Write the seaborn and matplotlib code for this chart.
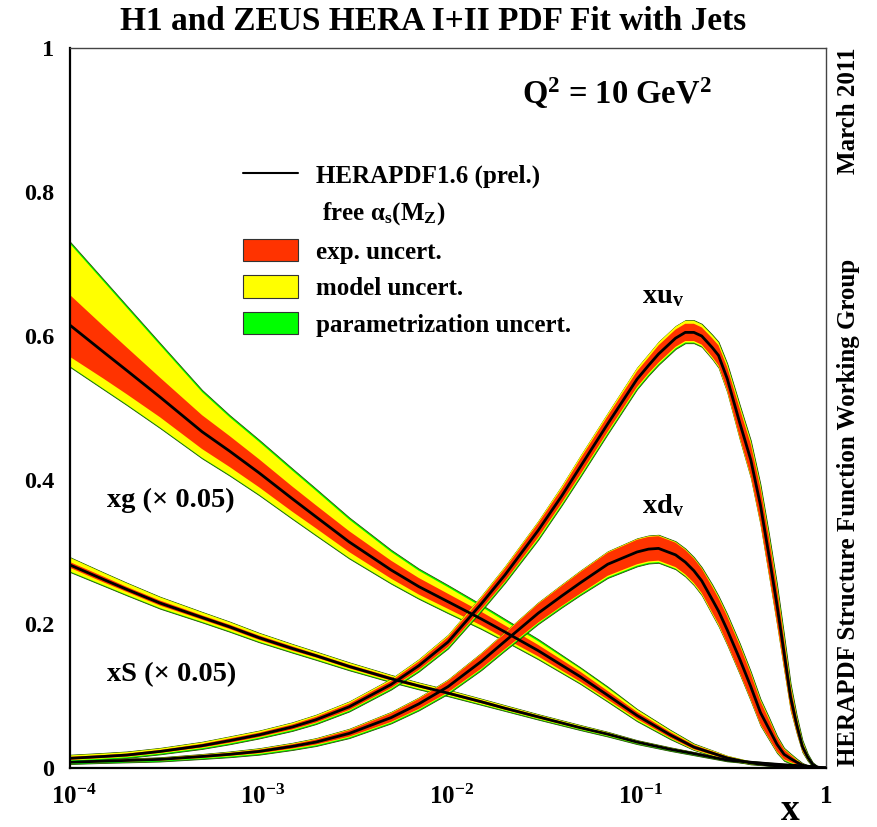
import numpy as np
import pandas as pd
import matplotlib
matplotlib.use("Agg")
import matplotlib.pyplot as plt
import seaborn as sns
from matplotlib.lines import Line2D
from matplotlib.patches import Patch
from matplotlib.ticker import FixedLocator, FixedFormatter, LogLocator, NullFormatter, MultipleLocator
from matplotlib.transforms import ScaledTranslation

# ---------------- data ----------------
x_sea = [1e-4, 1.5e-4, 2e-4, 3e-4, 5e-4, 7e-4, 1e-3, 1.5e-3, 2e-3, 3e-3, 5e-3, 7e-3,
         1e-2, 1.5e-2, 2e-2, 3e-2, 5e-2, 7e-2, 0.1, 0.15, 0.2, 0.3, 0.4, 0.5, 0.6,
         0.7, 0.8, 0.9, 1.0]

xg_c = [0.615, 0.578, 0.552, 0.515, 0.467, 0.440, 0.410, 0.374, 0.349, 0.314, 0.275, 0.252,
        0.231, 0.207, 0.189, 0.163, 0.127, 0.101, 0.073, 0.046, 0.029, 0.014, 0.007, 0.004,
        0.002, 0.001, 0.0005, 0.0002, 0.0]
xg_exp_up = [0.042, 0.036, 0.032, 0.027, 0.023, 0.021, 0.019, 0.017, 0.016, 0.015, 0.013, 0.012,
             0.011, 0.010, 0.009, 0.008, 0.007, 0.006, 0.005, 0.004, 0.003, 0.002, 0.001, 0.001,
             0.0005, 0.0003, 0.0002, 0.0001, 0.0]
xg_exp_dn = [0.044, 0.037, 0.033, 0.028, 0.024, 0.022, 0.020, 0.018, 0.016, 0.014, 0.012, 0.011,
             0.010, 0.009, 0.009, 0.008, 0.007, 0.006, 0.005, 0.004, 0.003, 0.002, 0.001, 0.001,
             0.0005, 0.0003, 0.0002, 0.0001, 0.0]
xg_mod_up = [0.113, 0.098, 0.087, 0.072, 0.055, 0.047, 0.043, 0.039, 0.036, 0.031, 0.025, 0.022,
             0.020, 0.017, 0.015, 0.013, 0.011, 0.010, 0.008, 0.006, 0.004, 0.003, 0.002, 0.001,
             0.001, 0.0005, 0.0003, 0.0001, 0.0]
xg_mod_dn = [0.057, 0.051, 0.047, 0.042, 0.036, 0.033, 0.030, 0.027, 0.025, 0.022, 0.018, 0.016,
             0.015, 0.013, 0.012, 0.011, 0.009, 0.008, 0.007, 0.005, 0.004, 0.003, 0.002, 0.001,
             0.001, 0.0005, 0.0003, 0.0001, 0.0]
xg_tot_up = [0.116, 0.101, 0.090, 0.075, 0.058, 0.050, 0.046, 0.042, 0.039, 0.034, 0.028, 0.025,
             0.023, 0.020, 0.018, 0.016, 0.013, 0.012, 0.009, 0.007, 0.005, 0.003, 0.002, 0.001,
             0.001, 0.0005, 0.0003, 0.0001, 0.0]
xg_tot_dn = [0.058, 0.052, 0.048, 0.043, 0.037, 0.034, 0.031, 0.028, 0.026, 0.023, 0.019, 0.017,
             0.016, 0.014, 0.013, 0.012, 0.010, 0.009, 0.008, 0.006, 0.004, 0.003, 0.002, 0.001,
             0.001, 0.0005, 0.0003, 0.0001, 0.0]

xs_c = [0.282, 0.262, 0.248, 0.229, 0.209, 0.196, 0.181, 0.166, 0.156, 0.141, 0.124, 0.114,
        0.104, 0.092, 0.083, 0.071, 0.056, 0.047, 0.036, 0.026, 0.020, 0.011, 0.008, 0.006,
        0.0045, 0.0035, 0.0025, 0.0012, 0.0]
xs_exp = [0.004, 0.004, 0.0035, 0.0035, 0.003, 0.003, 0.003, 0.003, 0.0025, 0.0025, 0.0025, 0.002,
          0.002, 0.002, 0.002, 0.002, 0.0015, 0.0015, 0.0012, 0.001, 0.001, 0.0008, 0.0006, 0.0005,
          0.0004, 0.0003, 0.0002, 0.0001, 0.0]
xs_mod_up = [0.010, 0.009, 0.0085, 0.008, 0.007, 0.0065, 0.006, 0.0055, 0.005, 0.005, 0.0045, 0.004,
             0.004, 0.0035, 0.0035, 0.003, 0.003, 0.0025, 0.002, 0.002, 0.0015, 0.001, 0.001, 0.0008,
             0.0006, 0.0004, 0.0003, 0.0001, 0.0]
xs_mod_dn = [0.009, 0.008, 0.0075, 0.007, 0.006, 0.006, 0.0055, 0.005, 0.005, 0.0045, 0.004, 0.004,
             0.0035, 0.0035, 0.003, 0.003, 0.0025, 0.0025, 0.002, 0.0015, 0.0015, 0.001, 0.001, 0.0008,
             0.0006, 0.0004, 0.0003, 0.0001, 0.0]

x_val = [1e-4, 1.5e-4, 2e-4, 3e-4, 5e-4, 7e-4, 1e-3, 1.5e-3, 2e-3, 3e-3, 5e-3, 7e-3,
         1e-2, 1.5e-2, 2e-2, 3e-2, 4e-2, 5e-2, 7e-2, 0.1, 0.115, 0.13, 0.16, 0.18, 0.2,
         0.22, 0.25, 0.27, 0.3, 0.35, 0.4, 0.45, 0.5, 0.55, 0.6, 0.65, 0.7, 0.75, 0.8,
         0.85, 0.9, 0.95, 1.0]

xuv_c = [0.0135, 0.016, 0.018, 0.023, 0.031, 0.038, 0.046, 0.057, 0.067, 0.085, 0.116, 0.142,
         0.175, 0.228, 0.268, 0.330, 0.378, 0.418, 0.478, 0.540, 0.559, 0.575, 0.597, 0.605,
         0.605, 0.600, 0.584, 0.573, 0.541, 0.479, 0.428, 0.365, 0.294, 0.227, 0.160, 0.098,
         0.060, 0.030, 0.015, 0.005, 0.001, 0.0002, 0.0]
xuv_exp = [0.002, 0.002, 0.002, 0.002, 0.0025, 0.003, 0.003, 0.0035, 0.004, 0.0045, 0.005, 0.006,
           0.007, 0.008, 0.009, 0.010, 0.010, 0.011, 0.011, 0.011, 0.011, 0.012, 0.012, 0.012,
           0.012, 0.012, 0.013, 0.014, 0.016, 0.020, 0.022, 0.024, 0.025, 0.024, 0.020, 0.015,
           0.010, 0.006, 0.003, 0.0015, 0.0005, 0.0001, 0.0]
xuv_mod_up = [0.004, 0.004, 0.004, 0.004, 0.0045, 0.005, 0.005, 0.0055, 0.006, 0.0065, 0.007, 0.008,
              0.009, 0.010, 0.011, 0.012, 0.013, 0.014, 0.014, 0.015, 0.015, 0.016, 0.016, 0.016,
              0.016, 0.016, 0.017, 0.018, 0.020, 0.024, 0.026, 0.028, 0.029, 0.028, 0.024, 0.018,
              0.012, 0.008, 0.004, 0.002, 0.0007, 0.0002, 0.0]
xuv_mod_dn = [0.003, 0.003, 0.003, 0.003, 0.0035, 0.004, 0.004, 0.0045, 0.005, 0.0055, 0.006, 0.007,
              0.008, 0.009, 0.010, 0.012, 0.012, 0.013, 0.013, 0.013, 0.013, 0.014, 0.014, 0.014,
              0.014, 0.014, 0.015, 0.016, 0.018, 0.022, 0.024, 0.026, 0.027, 0.026, 0.022, 0.017,
              0.011, 0.007, 0.004, 0.002, 0.0006, 0.0001, 0.0]

xdv_c = [0.008, 0.0095, 0.0105, 0.012, 0.016, 0.019, 0.023, 0.030, 0.036, 0.048, 0.070, 0.089,
         0.113, 0.148, 0.176, 0.215, 0.239, 0.257, 0.283, 0.300, 0.304, 0.305, 0.296, 0.286,
         0.274, 0.260, 0.234, 0.218, 0.192, 0.151, 0.113, 0.077, 0.054, 0.033, 0.019, 0.013,
         0.008, 0.004, 0.002, 0.001, 0.0003, 0.0001, 0.0]
xdv_exp = [0.001, 0.001, 0.0012, 0.0015, 0.002, 0.002, 0.0025, 0.003, 0.0035, 0.0045, 0.006, 0.007,
           0.008, 0.010, 0.011, 0.013, 0.014, 0.015, 0.016, 0.017, 0.017, 0.017, 0.017, 0.017,
           0.017, 0.017, 0.018, 0.018, 0.019, 0.019, 0.018, 0.016, 0.013, 0.010, 0.007, 0.005,
           0.003, 0.002, 0.001, 0.0005, 0.0002, 0.0001, 0.0]
xdv_mod_up = [0.0015, 0.0015, 0.0017, 0.002, 0.0025, 0.003, 0.0035, 0.004, 0.0045, 0.0055, 0.007, 0.008,
              0.009, 0.011, 0.012, 0.014, 0.015, 0.016, 0.017, 0.018, 0.018, 0.018, 0.018, 0.018,
              0.018, 0.018, 0.020, 0.020, 0.021, 0.021, 0.020, 0.018, 0.015, 0.011, 0.008, 0.006,
              0.004, 0.002, 0.001, 0.0006, 0.0002, 0.0001, 0.0]
xdv_mod_dn = [0.0015, 0.0015, 0.0017, 0.002, 0.0025, 0.003, 0.0035, 0.004, 0.0045, 0.0055, 0.007, 0.008,
              0.009, 0.011, 0.012, 0.014, 0.015, 0.016, 0.018, 0.019, 0.019, 0.019, 0.019, 0.019,
              0.019, 0.019, 0.020, 0.020, 0.020, 0.020, 0.019, 0.017, 0.014, 0.011, 0.008, 0.006,
              0.004, 0.002, 0.001, 0.0006, 0.0002, 0.0001, 0.0]

y_ticks = [0.0, 0.2, 0.4, 0.6, 0.8, 1.0]
y_tick_labels = ["0", "0.2", "0.4", "0.6", "0.8", "1"]
x_ticks = [1e-4, 1e-3, 1e-2, 1e-1, 1.0]
x_tick_labels = [r"$10^{-4}$", r"$10^{-3}$", r"$10^{-2}$", r"$10^{-1}$", "1"]

legend_labels = ["HERAPDF1.6 (prel.)", r" free $α_{s}(M_{Z})$", "exp. uncert.",
                 "model uncert.", "parametrization uncert."]

# ---------------- style ----------------
sns.set_theme(style="white")
plt.rcParams["font.family"] = ["Liberation Serif", "DejaVu Serif"]
plt.rcParams["font.weight"] = "bold"
plt.rcParams["text.color"] = "black"
plt.rcParams["axes.labelcolor"] = "black"
plt.rcParams["xtick.color"] = "black"
plt.rcParams["ytick.color"] = "black"
plt.rcParams["mathtext.fontset"] = "custom"
plt.rcParams["mathtext.rm"] = "Liberation Serif:bold"
plt.rcParams["mathtext.it"] = "Liberation Serif:bold"
plt.rcParams["mathtext.bf"] = "Liberation Serif:bold"
plt.rcParams["mathtext.default"] = "rm"

RED = "#ff3300"
YEL = "#ffff00"
GRN = "#00ff00"
EDGE = "#2d4d00"

W, H = 878, 827
L, R, T, B = 70, 826, 48, 768
fig = plt.figure(figsize=(W / 100, H / 100), dpi=100)
ax = fig.add_axes([L / W, 1 - B / H, (R - L) / W, (B - T) / H])


def band(x, c, e_up, e_dn, m_up, m_dn, t_up, t_dn):
    x = np.asarray(x); c = np.asarray(c)
    ax.fill_between(x, c - np.asarray(t_dn), c + np.asarray(t_up), facecolor=GRN,
                    edgecolor=EDGE, linewidth=0.6, zorder=2)
    ax.fill_between(x, c - np.asarray(m_dn), c + np.asarray(m_up), facecolor=YEL,
                    edgecolor="none", linewidth=0, zorder=2)
    ax.fill_between(x, c - np.asarray(e_dn), c + np.asarray(e_up), facecolor=RED,
                    edgecolor="none", linewidth=0, zorder=2)


band(x_sea, xs_c, xs_exp, xs_exp, xs_mod_up, xs_mod_dn,
     np.asarray(xs_mod_up) + 0.0008, np.asarray(xs_mod_dn) + 0.0008)
band(x_sea, xg_c, xg_exp_up, xg_exp_dn, xg_mod_up, xg_mod_dn, xg_tot_up, xg_tot_dn)
band(x_val, xdv_c, xdv_exp, xdv_exp, xdv_mod_up, xdv_mod_dn,
     np.asarray(xdv_mod_up) + 0.001, np.asarray(xdv_mod_dn) + 0.001)
band(x_val, xuv_c, xuv_exp, xuv_exp, xuv_mod_up, xuv_mod_dn,
     np.asarray(xuv_mod_up) + 0.001, np.asarray(xuv_mod_dn) + 0.001)

df = pd.concat([
    pd.DataFrame({"x": x_sea, "y": xs_c, "pdf": "xS"}),
    pd.DataFrame({"x": x_sea, "y": xg_c, "pdf": "xg"}),
    pd.DataFrame({"x": x_val, "y": xdv_c, "pdf": "xdv"}),
    pd.DataFrame({"x": x_val, "y": xuv_c, "pdf": "xuv"}),
])
sns.lineplot(data=df, x="x", y="y", units="pdf", estimator=None, color="black",
             linewidth=2.0, sort=False, ax=ax, legend=False, zorder=3)

ax.set_xscale("log")
ax.set_xlim(1e-4, 1.0)
ax.set_ylim(0, 1)
ax.set_ylabel("")

ax.xaxis.set_major_locator(FixedLocator(x_ticks))
ax.xaxis.set_major_formatter(FixedFormatter(x_tick_labels))
ax.xaxis.set_minor_locator(LogLocator(base=10, subs=np.arange(2, 10)))
ax.xaxis.set_minor_formatter(NullFormatter())
ax.yaxis.set_major_locator(FixedLocator(y_ticks))
ax.yaxis.set_major_formatter(FixedFormatter(y_tick_labels))
ax.yaxis.set_minor_locator(MultipleLocator(0.05))

ax.tick_params(axis="both", which="both", direction="in", top=False, right=False,
               colors="black")
ax.tick_params(axis="x", which="major", length=11, width=1.0, pad=12, labelsize=18)
ax.tick_params(axis="x", which="minor", length=6, width=1.0)
ax.tick_params(axis="y", which="major", length=9, width=1.0, pad=11.5, labelsize=17.5)
ax.tick_params(axis="y", which="minor", length=5, width=1.0)
for lab in ax.get_xticklabels() + ax.get_yticklabels():
    lab.set_fontweight("bold")
    lab.set_color("black")
shift = ScaledTranslation(4 / 100, 0, fig.dpi_scale_trans)
for lab in ax.get_xticklabels()[:4]:
    lab.set_transform(lab.get_transform() + shift)

for side in ["top", "right"]:
    ax.spines[side].set_linewidth(1.0)
    ax.spines[side].set_color("#444444")
for side in ["left", "bottom"]:
    ax.spines[side].set_linewidth(1.6)
    ax.spines[side].set_color("black")

ax.set_xlabel("x", fontsize=27, fontweight="bold", color="black", va="center")
ax.xaxis.set_label_coords((790 - L) / (R - L), (B - 810) / (B - T))

# ---------------- legend ----------------
handles = [
    Line2D([], [], color="black", linewidth=1.5),
    Line2D([], [], color="none"),
    Patch(facecolor=RED, edgecolor="#333333", linewidth=0.8),
    Patch(facecolor=YEL, edgecolor="#333333", linewidth=0.8),
    Patch(facecolor=GRN, edgecolor="#333333", linewidth=0.8),
]
leg = ax.legend(handles, legend_labels, loc="upper left", frameon=False,
                bbox_to_anchor=(243 / W, 1 - 163 / H), bbox_transform=fig.transFigure,
                borderpad=0, borderaxespad=0, handlelength=2.2, handleheight=1.0,
                handletextpad=0.72, labelspacing=0.47,
                prop={"family": ["Liberation Serif"], "weight": "bold", "size": 18})
for t in leg.get_texts():
    t.set_color("black")

# ---------------- texts ----------------
fig.text(433 / W, 1 - 21 / H, "H1 and ZEUS HERA I+II PDF Fit with Jets",
         ha="center", va="center", fontsize=24, fontweight="bold", color="black")
fig.text(617 / W, 1 - 93 / H, r"Q$^{2}$ = 10 GeV$^{2}$",
         ha="center", va="center", fontsize=23.5, fontweight="bold", color="black")
fig.text(663 / W, 1 - 297 / H, r"xu$_{v}$", ha="center", va="center",
         fontsize=20.5, fontweight="bold", color="black")
fig.text(663 / W, 1 - 506 / H, r"xd$_{v}$", ha="center", va="center",
         fontsize=20.5, fontweight="bold", color="black")
fig.text(107 / W, 1 - 500 / H, "xg (× 0.05)", ha="left", va="center",
         fontsize=20.5, fontweight="bold", color="black")
fig.text(107 / W, 1 - 675 / H, "xS (× 0.05)", ha="left", va="center",
         fontsize=20.5, fontweight="bold", color="black")
fig.text(849 / W, 1 - 48 / H, "March 2011", rotation=90, ha="center", va="top",
         fontsize=18, fontweight="bold", color="black")
fig.text(849 / W, 1 - 766 / H, "HERAPDF Structure Function Working Group", rotation=90,
         ha="center", va="bottom", fontsize=18, fontweight="bold", color="black")

fig.savefig("out.png", dpi=100)
